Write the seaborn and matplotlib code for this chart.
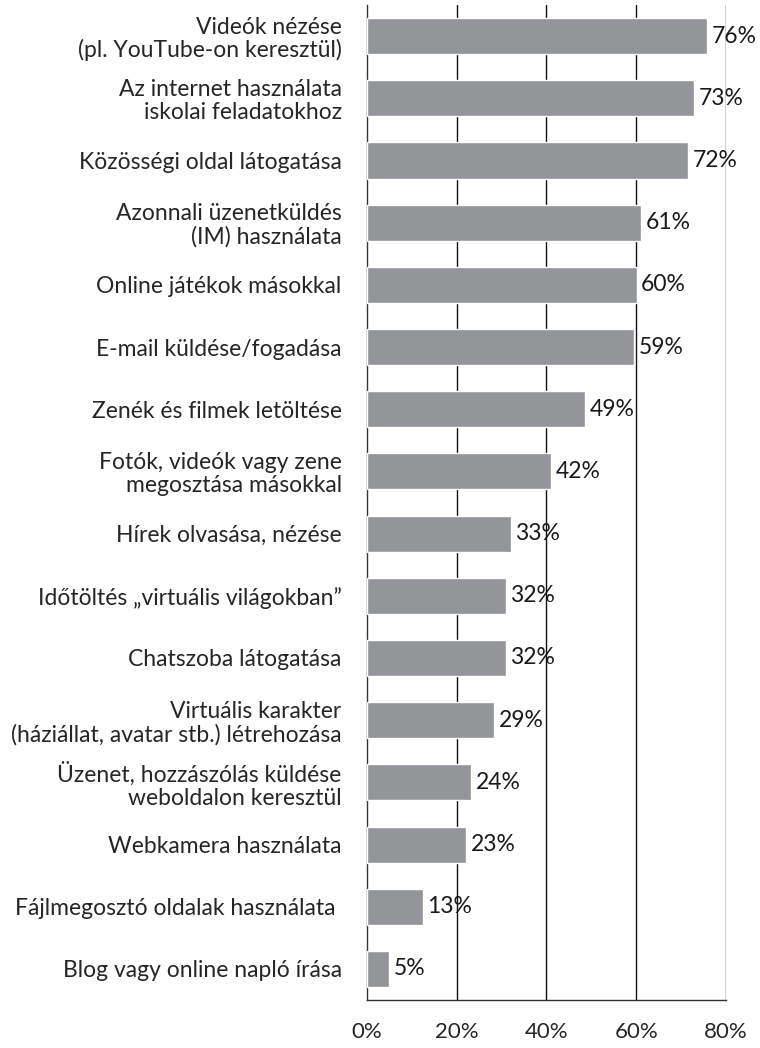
import numpy as np
import pandas as pd
import seaborn as sns
import matplotlib.pyplot as plt
from matplotlib.ticker import FixedLocator


tevekenysegek = [
    "Videók nézése\n(pl. YouTube-on keresztül)",
    "Az internet használata\niskolai feladatokhoz",
    "Közösségi oldal látogatása",
    "Azonnali üzenetküldés\n(IM) használata",
    "Online játékok másokkal",
    "E-mail küldése/fogadása",
    "Zenék és filmek letöltése",
    "Fotók, videók vagy zene\nmegosztása másokkal",
    "Hírek olvasása, nézése",
    "Időtöltés „virtuális világokban”",
    "Chatszoba látogatása",
    "Virtuális karakter\n(háziállat, avatar stb.) létrehozása",
    "Üzenet, hozzászólás küldése\nweboldalon keresztül",
    "Webkamera használata",
    "Fájlmegosztó oldalak használata ",
    "Blog vagy online napló írása",
]
ertekek = [75.8, 72.9, 71.6, 61.1, 60.1, 59.5, 48.6, 41.0, 32.1, 31.0, 31.0, 28.4, 23.2, 22.1, 12.5, 4.95]
cimkek = ["76%", "73%", "72%", "61%", "60%", "59%", "49%", "42%", "33%", "32%", "32%", "29%", "24%", "23%", "13%", "5%"]
x_tickek = [0, 20, 40, 60, 80]

df = pd.DataFrame({"tev": tevekenysegek, "ertek": ertekek})

sns.set_style("white")
plt.rcParams["font.family"] = ["Lato", "DejaVu Sans"]
plt.rcParams["text.color"] = "#1a1a1a"

fig = plt.figure(figsize=(7.6, 10.48), dpi=100)
ax = fig.add_axes([0.4825, 0.0458, 0.9553 - 0.4825, 0.9952 - 0.0458])

sns.barplot(data=df, x="ertek", y="tev", color="#939598", saturation=1,
            width=0.58, ax=ax, zorder=3)

ax.set_xlim(0, 80)
ax.set_ylim(len(tevekenysegek) - 0.5, -0.5)
ax.set_xlabel("")
ax.set_ylabel("")

# függőleges rácsvonalak
for x in x_tickek[1:]:
    ax.axvline(x, color="#111111", lw=1.0, zorder=1)

for sp in ["top", "right"]:
    ax.spines[sp].set_visible(False)
for sp in ["left", "bottom"]:
    ax.spines[sp].set_color("#333333")
    ax.spines[sp].set_linewidth(1.0)

ax.set_xticks(x_tickek)
ax.set_xticklabels([f"{x}%" for x in x_tickek], fontsize=16)
ax.tick_params(axis="x", direction="out", length=7, width=1, color="#333333", pad=9)

ax.tick_params(axis="y", which="major", length=0, pad=18, labelsize=16.5)
for t in ax.get_yticklabels():
    t.set_linespacing(1.1)
ax.yaxis.set_minor_locator(FixedLocator(np.arange(-0.5, len(tevekenysegek), 1)))
ax.tick_params(axis="y", which="minor", direction="out", length=6, width=1, color="#333333")

for i, (v, c) in enumerate(zip(ertekek, cimkek)):
    ax.text(v + 1.0, i, c, va="center", ha="left", fontsize=16.5, zorder=4)

fig.savefig("out.png", dpi=100)
